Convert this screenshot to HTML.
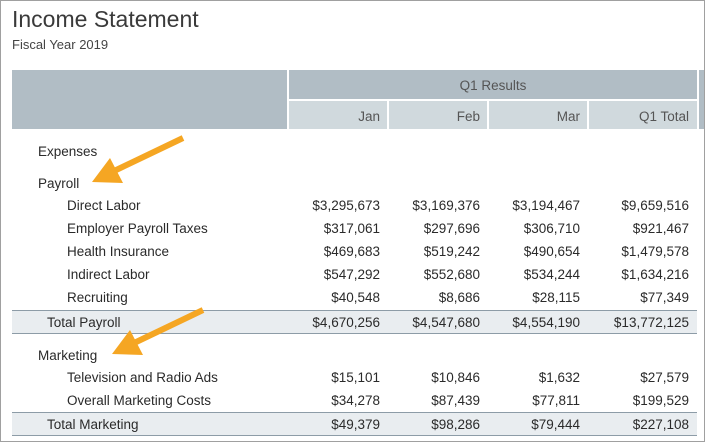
<!DOCTYPE html>
<html><head><meta charset="utf-8"><style>
*{margin:0;padding:0;box-sizing:border-box}
body{width:706px;height:443px;background:#fff;font-family:"Liberation Sans",sans-serif;color:#2a2a2a;position:relative;overflow:hidden}
.frame{position:absolute;left:0;top:0;width:705px;height:442px;border:1px solid #a0a0a0}
.a{position:absolute;white-space:nowrap;font-size:13.5px;line-height:16px}
.r{text-align:right}
.hd{position:absolute}
</style></head><body>
<div class="frame"></div>
<div class="a" style="left:12px;top:5px;font-size:23px;line-height:28px;color:#3a3a3a">Income Statement</div>
<div class="a" style="left:12px;top:37px;font-size:13px;color:#444">Fiscal Year 2019</div>
<div class="hd" style="left:12px;top:70px;width:275px;height:59px;background:#b1bdc5"></div>
<div class="hd" style="left:289px;top:70px;width:408px;height:29px;background:#b1bdc5"></div>
<div class="hd" style="left:699px;top:70px;width:5px;height:59px;background:#b1bdc5"></div>
<div class="hd" style="left:289px;top:101px;width:98px;height:28px;background:#d0d9dd"></div>
<div class="hd" style="left:389px;top:101px;width:98px;height:28px;background:#d0d9dd"></div>
<div class="hd" style="left:489px;top:101px;width:98px;height:28px;background:#d0d9dd"></div>
<div class="hd" style="left:589px;top:101px;width:108px;height:28px;background:#d0d9dd"></div>
<div class="a" style="left:289px;width:408px;top:78px;text-align:center;color:#555">Q1 Results</div>
<div class="a r" style="left:289px;width:91px;top:109px;color:#555">Jan</div>
<div class="a r" style="left:389px;width:91px;top:109px;color:#555">Feb</div>
<div class="a r" style="left:489px;width:91px;top:109px;color:#555">Mar</div>
<div class="a r" style="left:589px;width:100px;top:109px;color:#555">Q1 Total</div>

<div class="hd" style="left:12px;top:310px;width:685px;height:24px;background:#e9edf0;border-top:1px solid #8d9ca7;border-bottom:1px solid #8d9ca7"></div>
<div class="hd" style="left:12px;top:412px;width:685px;height:24px;background:#e9edf0;border-top:1px solid #8d9ca7;border-bottom:1px solid #8d9ca7"></div>

<div class="a" style="left:38px;top:144px">Expenses</div>
<div class="a" style="left:38px;top:176px">Payroll</div>
<div class="a" style="left:38px;top:348px">Marketing</div>

<div id="rows"></div>
<script>
var rows=[
[198,67,"Direct Labor","$3,295,673","$3,169,376","$3,194,467","$9,659,516"],
[221,67,"Employer Payroll Taxes","$317,061","$297,696","$306,710","$921,467"],
[244,67,"Health Insurance","$469,683","$519,242","$490,654","$1,479,578"],
[267,67,"Indirect Labor","$547,292","$552,680","$534,244","$1,634,216"],
[290,67,"Recruiting","$40,548","$8,686","$28,115","$77,349"],
[315,47,"Total Payroll","$4,670,256","$4,547,680","$4,554,190","$13,772,125"],
[370,67,"Television and Radio Ads","$15,101","$10,846","$1,632","$27,579"],
[393,67,"Overall Marketing Costs","$34,278","$87,439","$77,811","$199,529"],
[417,47,"Total Marketing","$49,379","$98,286","$79,444","$227,108"]];
var ends=[380,480,580,689],h="";
rows.forEach(function(r){h+='<div class="a" style="left:'+r[1]+'px;top:'+r[0]+'px">'+r[2]+'</div>';
for(var i=0;i<4;i++)h+='<div class="a r" style="left:'+(ends[i]-120)+'px;width:120px;top:'+r[0]+'px">'+r[3+i]+'</div>';});
document.getElementById('rows').innerHTML=h;
</script>
<svg style="position:absolute;left:0;top:0" width="706" height="443">
<g fill="#f5a623" stroke="#f5a623">
<line x1="183" y1="138" x2="112" y2="172" stroke-width="6"/>
<polygon points="92,182 110,158 123,183" stroke="none"/>
<line x1="203" y1="310" x2="132" y2="344" stroke-width="6"/>
<polygon points="112,354 130,330 143,355" stroke="none"/>
</g></svg>
</body></html>
